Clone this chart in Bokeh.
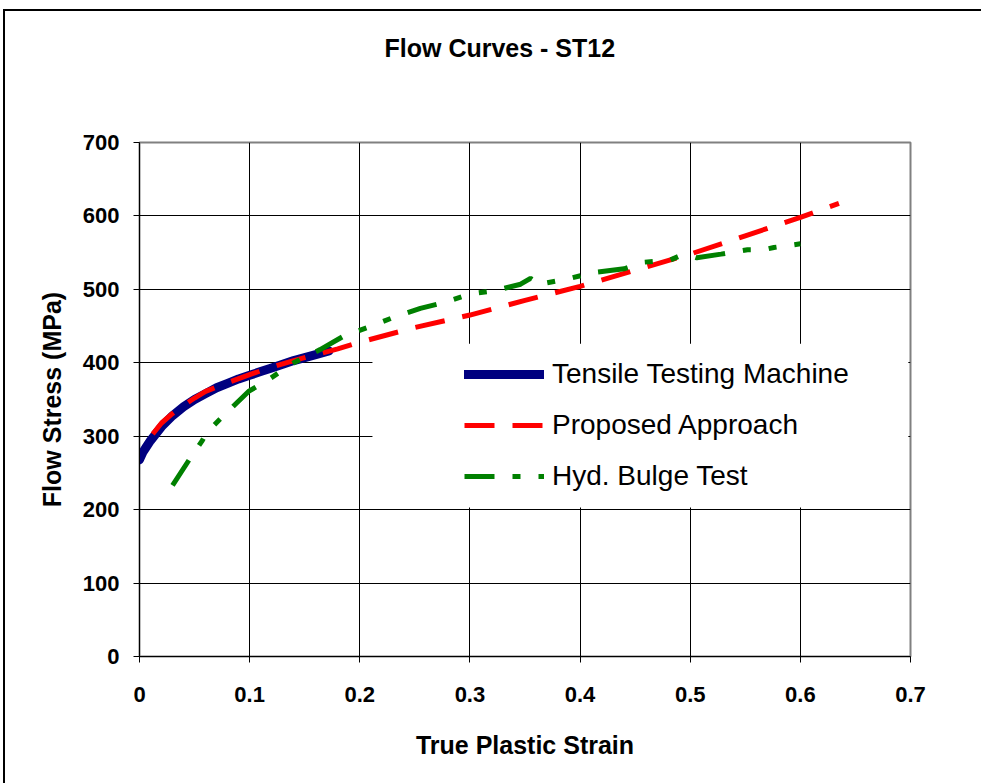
from bokeh.plotting import figure
from bokeh.models import Legend, LegendItem, FixedTicker, BoxAnnotation, Title
from bokeh.embed import file_html
from bokeh.resources import INLINE

# ---- data ----
strain_tensile = [0, 0.003, 0.006, 0.01, 0.02, 0.03, 0.04, 0.05, 0.06, 0.07,
                  0.08, 0.09, 0.10, 0.11, 0.12, 0.13, 0.14, 0.15, 0.16, 0.172]
stress_tensile = [268, 278, 285, 294, 313, 328, 340, 350, 358, 366,
                  372, 378, 383, 388, 393, 398, 403, 407, 411, 416]

strain_proposed = [0.012, 0.02, 0.03, 0.04, 0.05, 0.06, 0.08, 0.10, 0.12, 0.14, 0.16,
                   0.18, 0.20, 0.25, 0.30, 0.35, 0.40, 0.45, 0.50, 0.55, 0.60, 0.635]
stress_proposed = [303, 318, 331, 342, 352, 361, 373, 384, 394, 403, 411,
                   419, 428, 448, 465, 485, 504, 526, 548, 573, 598, 617]

strain_bulge = [0.03, 0.046, 0.057, 0.061, 0.075, 0.099, 0.116, 0.14, 0.164, 0.185,
                0.207, 0.231, 0.255, 0.276, 0.301, 0.322, 0.346, 0.355, 0.364, 0.37,
                0.391, 0.412, 0.44, 0.458, 0.482, 0.491, 0.5, 0.506, 0.528, 0.552,
                0.567, 0.576, 0.6]
stress_bulge = [233, 270, 294, 305, 326, 361, 376, 400, 418, 436,
                448, 462, 474, 482, 494, 498, 507, 515, 505, 509,
                515, 523, 528, 537, 540, 546, 546, 543, 548, 554,
                554, 557, 562]

series_names = ["Tensile Testing Machine", "Proposed Approach", "Hyd. Bulge Test"]
chart_title = "Flow Curves - ST12"

x_ticks = [0, 0.1, 0.2, 0.3, 0.4, 0.5, 0.6, 0.7]
x_tick_labels = ["0", "0.1", "0.2", "0.3", "0.4", "0.5", "0.6", "0.7"]
y_ticks = [0, 100, 200, 300, 400, 500, 600, 700]
y_tick_labels = ["0", "100", "200", "300", "400", "500", "600", "700"]

FONT = "Liberation Sans"

# the chart sits inside a bordered box offset (3, 9) px from the page corner
p = figure(frame_width=771, frame_height=514,
           min_border_left=134, min_border_right=71,
           min_border_top=131, min_border_bottom=127,
           x_range=(0, 0.7), y_range=(0, 700),
           output_backend="svg", toolbar_location=None,
           background_fill_color="white", border_fill_color="white")
p.styles = {"border-left": "2px solid black", "border-top": "2px solid black",
            "margin-left": "3px", "margin-top": "9px"}

# title (outermost panel) plus an empty spacer panel between it and the frame
p.title.text = chart_title
p.title.align = "left"
p.title.offset = 245
p.title.standoff = 0
p.title.text_font = FONT
p.title.text_font_size = "25px"
p.title.text_font_style = "bold"
p.title.text_color = "black"
p.add_layout(Title(text=" ", text_font_size="1px", standoff=78), "above")

# axes
for ax, ticks, labels in ((p.xaxis, x_ticks, x_tick_labels), (p.yaxis, y_ticks, y_tick_labels)):
    ax.ticker = FixedTicker(ticks=ticks)
    ax.major_label_overrides = dict(zip(ticks, labels))
    ax.minor_tick_line_color = None
    ax.major_tick_in = 0
    ax.major_tick_out = 6
    ax.major_tick_line_color = "black"
    ax.axis_line_color = "black"
    ax.axis_line_width = 1
    ax.major_label_text_font = FONT
    ax.major_label_text_font_size = "22px"
    ax.major_label_text_font_style = "bold"
    ax.major_label_text_color = "black"
    ax.axis_label_text_font = FONT
    ax.axis_label_text_font_size = "25px"
    ax.axis_label_text_font_style = "bold"
    ax.axis_label_text_color = "black"

p.xaxis.axis_label = "True Plastic Strain"
p.yaxis.axis_label = "Flow Stress (MPa)"
p.xaxis.major_label_standoff = 24
p.xaxis.axis_label_standoff = 26
p.yaxis.major_label_standoff = 14
p.yaxis.axis_label_standoff = 14

# grid
p.xgrid.ticker = FixedTicker(ticks=x_ticks)
p.ygrid.ticker = FixedTicker(ticks=y_ticks)
for g in (p.xgrid, p.ygrid):
    g.grid_line_color = "black"
    g.grid_line_width = 1

p.outline_line_color = "#808080"
p.outline_line_width = 2

# series
r1 = p.line(strain_tensile, stress_tensile, line_color="#000080", line_width=9,
            line_cap="round", line_join="round")
r2 = p.line(strain_proposed, stress_proposed, line_color="#FF0000", line_width=5,
            line_dash="30 18")
r3 = p.line(strain_bulge, stress_bulge, line_color="#008000", line_width=5,
            line_dash="30 18 8 18 8 18")

# legend background (white area covering the grid)
p.add_layout(BoxAnnotation(left=0.2115, right=0.698, bottom=203, top=426,
                           fill_color="white", fill_alpha=1.0, line_color=None,
                           level="glyph"))

legend = Legend(items=[LegendItem(label=series_names[0], renderers=[r1]),
                       LegendItem(label=series_names[1], renderers=[r2]),
                       LegendItem(label=series_names[2], renderers=[r3])],
                location=(325, 157), orientation="vertical",
                glyph_width=80, glyph_height=46, spacing=5, padding=0, margin=0,
                label_standoff=8, label_text_font=FONT, label_text_font_size="28px",
                label_text_color="black", border_line_color=None,
                background_fill_alpha=0)
p.add_layout(legend)

open("out.html", "w").write(file_html(p, INLINE))
